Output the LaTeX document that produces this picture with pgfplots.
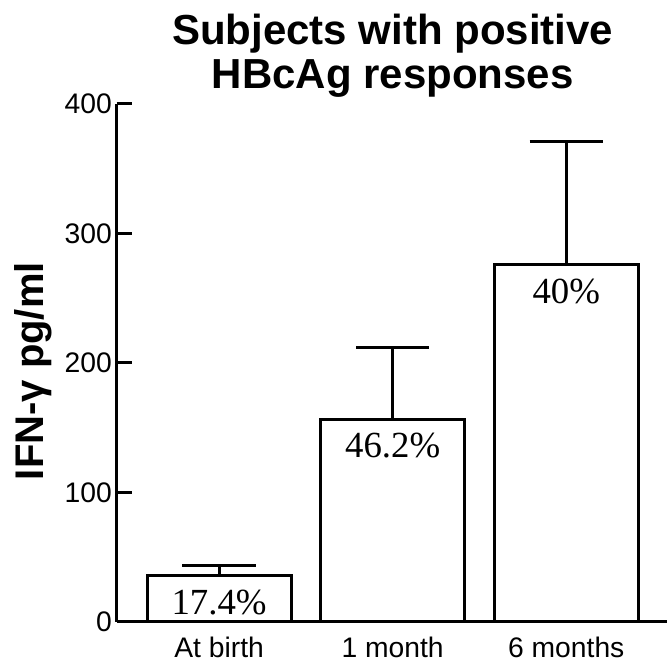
\documentclass[border=0pt]{standalone}
\usepackage{pgfplots}
\usepackage{pgfplotstable}
\pgfplotsset{compat=1.18}
\usepackage{fontspec}
\setmainfont{Liberation Sans}
\newfontfamily\seriffont{Liberation Serif}
\pgfplotstableread{
x y err lab
0 35.5 8.2 17.4
1 156.5 55.5 46.2
2 275.7 95.7 40
}\datatable
\begin{document}
\begin{tikzpicture}
\useasboundingbox (-87.5pt,-34.7pt) rectangle (412.7pt,466.3pt);
\begin{axis}[
  at={(0pt,0pt)}, anchor=south west,
  scale only axis, width=414pt, height=388.3pt,
  xmin=-0.59, xmax=2.59, ymin=0, ymax=400,
  axis x line=bottom, axis y line=left,
  axis line style={line width=2.25pt, -, black},
  ybar, bar width=0.83,
  xtick=data, xticklabels={At birth, 1 month, 6 months},
  x tick style={draw=none},
  ytick={0,100,200,300,400},
  tick align=inside, major tick length=11.25pt,
  y tick style={line width=2.25pt, black},
  ticklabel style={font=\fontsize{21.2}{24}\selectfont},
  yticklabel style={inner xsep=0pt, xshift=-3.5pt},
  xticklabel style={inner ysep=0pt, yshift=-11pt},
  /pgf/number format/assume math mode=true,
  title={Subjects with positive\\HBcAg responses},
  title style={font=\bfseries\fontsize{31.5}{33}\selectfont, align=center,
    at={(axis description cs:0.5,1)}, anchor=south, inner sep=0pt, yshift=-1.5pt},
  ylabel={IFN-γ pg/ml},
  ylabel style={font=\bfseries\fontsize{30}{36}\selectfont,
    at={(axis description cs:-0.133,0.484)}, anchor=base, inner sep=0pt},
  point meta=explicit symbolic,
  nodes near coords={\pgfplotspointmeta\%},
  nodes near coords style={anchor=north, inner sep=0pt, yshift=-9.5pt,
    font=\seriffont\fontsize{27.6}{30}\selectfont},
  clip=false,
]
\addplot[draw=black, fill=white, line width=2.25pt,
  error bars/.cd, y dir=plus, y explicit,
  error bar style={line width=2.25pt, black},
  error mark options={rotate=90, mark size=27.5pt, line width=2.25pt, black}]
  table[x=x, y=y, y error=err, meta=lab] \datatable;
\end{axis}
\end{tikzpicture}
\end{document}
